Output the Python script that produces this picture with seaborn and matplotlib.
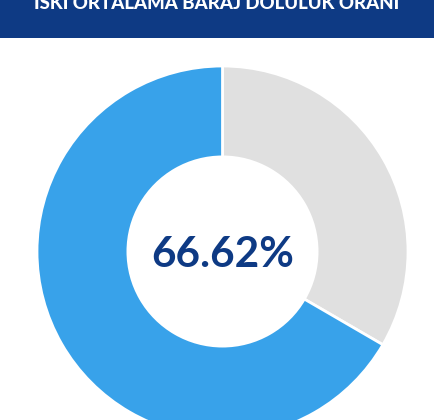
import matplotlib
matplotlib.use("Agg")
import matplotlib.pyplot as plt
import seaborn as sns

# ---- data ----
labels = ["Boş", "Dolu"]
values = [33.38, 66.62]
colors = ["#e0e0e0", "#38a2ea"]
title_text = "İSKİ ORTALAMA BARAJ DOLULUK ORANI"
center_text = "66.62%"

sns.set_theme(style="white")
plt.rcParams['font.family'] = ['Lato', 'DejaVu Sans']

W, H = 435, 420
fig = plt.figure(figsize=(W / 100, H / 100), dpi=100)
fig.patch.set_facecolor("white")

# banner
bax = fig.add_axes([0, 1 - 38 / H, 1, 38 / H])
bax.set_facecolor("#0e3a84")
bax.set_xticks([]); bax.set_yticks([])
for s in bax.spines.values():
    s.set_visible(False)

# donut axes
cx, cy, R = 222.5, 251.5, 185.5
ax = fig.add_axes([(cx - R) / W, (H - cy - R) / H, 2 * R / W, 2 * R / H])
ax.pie(values, colors=colors, startangle=90, counterclock=False,
       wedgeprops=dict(width=0.49, edgecolor="white", linewidth=2),
       radius=1.0)
ax.set_xlim(-1, 1); ax.set_ylim(-1, 1)
ax.set_aspect("auto")
ax.axis("off")

fig.canvas.draw()
renderer = fig.canvas.get_renderer()

def fit(txt, target_w):
    bb = txt.get_window_extent(renderer=renderer)
    txt.set_fontsize(txt.get_fontsize() * target_w / bb.width)

t1 = fig.text(0.5 - 0.5 / W, 1 - 9 / H, title_text, ha="center", va="baseline",
              color="white", fontweight="black", fontsize=14)
fit(t1, 367)

t2 = ax.text(0, 0, center_text, ha="center", va="center_baseline",
             color="#0e3a84", fontweight="bold", fontsize=32)
fit(t2, 143)

fig.savefig("out.png", dpi=100, facecolor="white")
